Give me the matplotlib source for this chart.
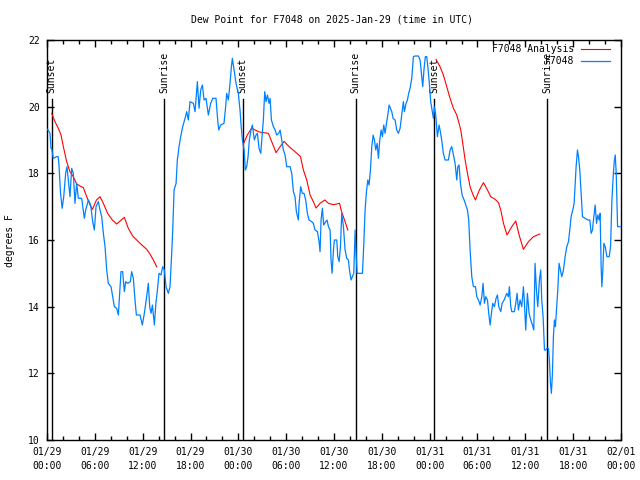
import numpy as np
import matplotlib
matplotlib.use('Agg')
import matplotlib.pyplot as plt

# ---- data (hours since 2025-01-29 00:00 UTC) ----
obs_hours = [0.08, 0.38, 0.5, 0.59, 0.79, 1.2, 1.4, 1.5, 1.7, 1.9, 2.1, 2.34, 2.51, 2.68, 2.88, 3.1, 3.3, 3.51,
             3.72, 3.93, 4.35, 4.68, 4.85, 5.19, 5.48, 5.73, 5.94, 6.15, 6.44, 6.65, 6.86, 7.07, 7.28, 7.49, 7.69,
             8.03, 8.24, 8.45, 8.74, 8.95, 9.12, 9.28, 9.49, 9.7, 9.87, 10.12, 10.45, 10.62, 10.83, 11.04, 11.21,
             11.67, 11.96, 12.21, 12.5, 12.71, 12.88, 13.05, 13.22, 13.47, 13.64, 13.85, 14.05, 14.3, 14.51, 14.72,
             14.93, 15.22, 15.43, 15.64, 15.77, 15.94, 16.19, 16.35, 16.56, 16.77, 17.02, 17.32, 17.52, 17.73, 17.94,
             18.36, 18.57, 18.86, 19.07, 19.28, 19.49, 19.7, 19.95, 20.24, 20.53, 20.79, 21.2, 21.41, 21.54, 21.79,
             22.2, 22.41, 22.54, 22.75, 22.96, 23.13, 23.25, 23.46, 23.71, 24.0, 24.21, 24.34, 24.51, 24.72, 24.88,
             25.05, 25.22, 25.38, 25.59, 25.76, 26.01, 26.22, 26.39, 26.6, 26.81, 26.97, 27.14, 27.31, 27.48, 27.65,
             27.85, 27.98, 28.15, 28.4, 28.61, 28.82, 29.07, 29.24, 29.44, 29.65, 29.86, 30.07, 30.49, 30.7, 30.91,
             31.11, 31.28, 31.53, 31.62, 31.82, 32.03, 32.24, 32.45, 32.66, 32.87, 33.2, 33.41, 33.62, 33.92, 34.13,
             34.25, 34.38, 34.54, 34.71, 34.96, 35.13, 35.3, 35.51, 35.63, 35.76, 35.93, 36.05, 36.35, 36.47, 36.64,
             36.81, 36.97, 37.18, 37.39, 37.6, 37.81, 37.94, 38.14, 38.31, 38.48, 38.65, 38.77, 38.9, 39.57, 39.74,
             39.9, 40.07, 40.24, 40.4, 40.57, 40.74, 40.91, 41.07, 41.24, 41.41, 41.57, 41.74, 41.91, 42.08, 42.24,
             42.41, 42.58, 42.75, 42.91, 43.08, 43.25, 43.41, 43.66, 43.87, 44.08, 44.29, 44.5, 44.7, 44.83, 45.04,
             45.21, 45.37, 45.54, 45.75, 45.96, 46.17, 46.59, 46.8, 47.0, 47.13, 47.3, 47.46, 47.63, 47.75, 47.96,
             48.13, 48.34, 48.47, 48.59, 48.76, 48.97, 49.18, 49.3, 49.51, 49.72, 49.93, 50.35, 50.56, 50.77, 50.98,
             51.19, 51.4, 51.53, 51.69, 51.86, 52.07, 52.32, 52.53, 52.74, 52.9, 53.07, 53.28, 53.49, 53.74, 53.91,
             54.12, 54.33, 54.54, 54.7, 54.87, 55.04, 55.25, 55.41, 55.58, 55.75, 55.91, 56.12, 56.33, 56.5, 56.67,
             56.92, 57.09, 57.34, 57.67, 57.88, 58.0, 58.17, 58.3, 58.63, 58.8, 58.97, 59.13, 59.34, 59.55, 59.76,
             59.89, 60.05, 60.26, 60.47, 60.68, 60.89, 61.06, 61.22, 61.39, 61.56, 61.77, 61.93, 62.06, 62.23, 62.4,
             62.56, 62.69, 62.9, 63.02, 63.15, 63.27, 63.4, 63.52, 63.65, 63.77, 63.94, 64.07, 64.23, 64.4, 64.57,
             64.78, 64.99, 65.2, 65.41, 65.62, 65.74, 65.95, 66.12, 66.25, 66.37, 66.54, 66.67, 66.83, 67.0, 67.17,
             67.5, 67.84, 68.09, 68.26, 68.42, 68.59, 68.76, 68.93, 69.09, 69.26, 69.38, 69.51, 69.6, 69.72, 69.85,
             70.02, 70.23, 70.52, 70.69, 70.86, 71.02, 71.15, 71.28, 71.4, 71.57, 71.9]
obs_dewpt = [19.32, 19.2, 18.75, 18.75, 18.45, 18.5, 18.5, 18.25, 17.4, 16.95, 17.3, 18.0, 18.2, 17.8, 17.3, 18.15,
             18.0, 17.1, 17.7, 17.25, 17.25, 16.65, 16.9, 17.2, 17.05, 16.55, 16.3, 17.0, 17.15, 16.9, 16.7, 16.2,
             15.8, 15.1, 14.7, 14.6, 14.3, 14.0, 13.95, 13.75, 14.4, 15.05, 15.05, 14.45, 14.75, 14.7, 14.75, 15.05,
             14.85, 14.2, 13.75, 13.75, 13.45, 13.8, 14.3, 14.7, 14.0, 13.8, 14.05, 13.45, 14.05, 14.5, 15.0, 14.95,
             15.2, 15.1, 14.6, 14.4, 14.6, 15.6, 16.3, 17.5, 17.7, 18.4, 18.8, 19.1, 19.4, 19.65, 19.85, 19.6, 20.15,
             20.1, 19.85, 20.75, 19.95, 20.5, 20.65, 20.2, 20.25, 19.75, 20.1, 20.25, 20.25, 19.6, 19.3, 19.45, 19.5,
             20.0, 20.4, 20.2, 20.7, 21.2, 21.45, 21.1, 20.7, 20.4, 19.9, 19.45, 19.0, 18.7, 18.1, 18.2, 18.5, 19.0,
             19.3, 19.45, 19.0, 19.15, 19.2, 18.75, 18.6, 19.1, 19.6, 20.45, 20.15, 20.35, 20.1, 20.25, 19.6, 19.4,
             19.3, 19.15, 19.2, 19.3, 19.0, 18.7, 18.55, 18.2, 18.2, 18.0, 17.45, 17.3, 16.85, 16.6, 17.1, 17.6,
             17.4, 17.4, 17.2, 16.8, 16.6, 16.55, 16.5, 16.3, 16.25, 15.95, 15.65, 16.6, 16.95, 16.45, 16.55, 16.6,
             16.4, 16.3, 15.4, 15.0, 15.7, 16.0, 16.0, 15.5, 15.35, 15.8, 16.8, 16.4, 15.7, 15.45, 15.4, 15.1, 14.8,
             14.9, 15.0, 16.3, 15.6, 15.0, 15.0, 15.9, 16.9, 17.45, 17.8, 17.65, 18.1, 18.8, 19.15, 19.0, 18.7, 18.9,
             18.45, 19.0, 19.3, 19.1, 19.45, 19.2, 19.5, 19.75, 20.05, 19.95, 19.85, 19.65, 19.6, 19.3, 19.2, 19.35,
             19.75, 20.15, 19.85, 20.1, 20.2, 20.4, 20.55, 20.85, 21.5, 21.52, 21.52, 21.4, 20.9, 20.6, 21.15, 21.5,
             21.5, 21.25, 20.7, 20.15, 19.85, 19.65, 20.0, 19.75, 19.1, 19.45, 19.3, 19.0, 18.6, 18.4, 18.4, 18.7,
             18.8, 18.55, 18.3, 17.8, 18.2, 18.25, 17.7, 17.35, 17.2, 17.05, 16.9, 16.6, 15.7, 14.9, 14.6, 14.6,
             14.3, 14.2, 14.05, 14.3, 14.7, 14.1, 14.3, 14.2, 13.8, 13.45, 13.8, 14.1, 14.0, 14.25, 14.35, 14.0,
             13.85, 14.1, 14.2, 14.4, 14.3, 14.6, 14.0, 13.85, 13.85, 14.1, 14.4, 13.9, 14.2, 14.0, 14.6, 14.1, 13.3,
             14.4, 13.8, 13.6, 13.45, 13.3, 15.3, 14.5, 14.0, 14.8, 15.1, 14.2, 13.7, 12.7, 12.7, 12.75, 12.75, 12.4,
             11.7, 11.4, 12.0, 13.1, 13.6, 13.4, 14.0, 14.5, 15.3, 15.1, 14.9, 15.1, 15.5, 15.8, 15.95, 16.4, 16.7,
             16.9, 17.1, 17.7, 18.2, 18.7, 18.5, 18.1, 17.4, 16.7, 16.65, 16.6, 16.6, 16.2, 16.3, 16.7, 17.05, 16.5,
             16.75, 16.6, 16.8, 15.2, 14.6, 15.1, 15.9, 15.8, 15.5, 15.5, 15.8, 17.2, 17.9, 18.35, 18.55, 18.0, 16.4,
             16.4]

ana1_hours = [0.59, 1.0, 1.42, 1.76, 2.05, 2.47, 2.88, 3.3, 3.72, 4.14, 4.56, 4.98, 5.4, 5.7, 6.2, 6.65, 7.07,
              7.6, 8.2, 8.74, 9.7, 10.2, 10.75, 11.67, 12.5, 12.92, 13.34, 13.76]
ana1_dewpt = [19.8, 19.55, 19.35, 19.15, 18.8, 18.35, 18.05, 17.9, 17.68, 17.62, 17.57, 17.3, 17.05, 16.92, 17.2,
              17.3, 17.1, 16.8, 16.6, 16.48, 16.68, 16.35, 16.12, 15.9, 15.72, 15.58, 15.4, 15.2]
ana2_hours = [24.63, 25.13, 25.68, 26.1, 26.64, 27.14, 27.77, 28.27, 28.73, 29.24, 29.74, 30.28, 31.11, 31.8,
              32.16, 32.58, 33.0, 33.41, 33.75, 34.25, 34.85, 35.3, 35.9, 36.35, 36.7, 36.89, 37.1, 37.39, 37.73]
ana2_dewpt = [18.88, 19.15, 19.36, 19.3, 19.24, 19.22, 19.2, 18.9, 18.62, 18.8, 18.96, 18.82, 18.65, 18.5, 18.1,
              17.8, 17.35, 17.15, 16.96, 17.1, 17.2, 17.1, 17.06, 17.08, 17.1, 16.9, 16.75, 16.55, 16.3]
ana3_hours = [48.8, 49.3, 49.72, 50.14, 50.56, 50.98, 51.4, 51.69, 51.9, 52.15, 52.45, 52.74, 53.07, 53.4, 53.74,
              54.24, 54.75, 55.25, 55.66, 56.21, 56.63, 56.92, 57.26, 57.7, 58.3, 58.8, 59.22, 59.76, 60.39, 61.02,
              61.81]
ana3_dewpt = [21.42, 21.2, 20.95, 20.6, 20.25, 19.95, 19.75, 19.5, 19.3, 18.9, 18.4, 18.0, 17.6, 17.38, 17.2, 17.5,
              17.72, 17.5, 17.3, 17.22, 17.12, 16.9, 16.5, 16.15, 16.4, 16.57, 16.15, 15.72, 15.95, 16.1, 16.18]

sunset_hours = [0.6, 24.55, 48.6]
sunrise_hours = [14.72, 38.73, 62.75]

x_tick_hours = [0, 6, 12, 18, 24, 30, 36, 42, 48, 54, 60, 66, 72]
x_tick_labels = ['01/29\n00:00', '01/29\n06:00', '01/29\n12:00', '01/29\n18:00',
                 '01/30\n00:00', '01/30\n06:00', '01/30\n12:00', '01/30\n18:00',
                 '01/31\n00:00', '01/31\n06:00', '01/31\n12:00', '01/31\n18:00', '02/01\n00:00']
y_ticks = [10, 12, 14, 16, 18, 20, 22]

title = 'Dew Point for F7048 on 2025-Jan-29 (time in UTC)'

# ---- plot ----
FONT = 'DejaVu Sans Mono'
FS = 7
plt.rcParams['font.family'] = [FONT]

fig = plt.figure(figsize=(6.4, 4.8), dpi=100)
ax = fig.add_axes([47/640, 1-440/480, 574/640, 400/480])

ana_hours = ana1_hours + [np.nan] + ana2_hours + [np.nan] + ana3_hours
ana_dewpt = ana1_dewpt + [np.nan] + ana2_dewpt + [np.nan] + ana3_dewpt

for h in sunset_hours + sunrise_hours:
    ax.plot([h, h], [10, 20.22], color='black', lw=1.0, zorder=2)
for h in sunset_hours:
    ax.text(h, 20.42, 'Sunset', rotation=90, ha='center', va='bottom', fontsize=FS, zorder=3)
for h in sunrise_hours:
    ax.text(h, 20.42, 'Sunrise', rotation=90, ha='center', va='bottom', fontsize=FS, zorder=3)

ax.plot(ana_hours, ana_dewpt, color='#ff0000', lw=0.8, label='F7048 Analysis', zorder=4)
ax.plot(obs_hours, obs_dewpt, color='#0080ff', lw=0.9, label='F7048', zorder=4)

ax.set_xlim(0, 72)
ax.set_ylim(10, 22)
ax.set_xticks(x_tick_hours)
ax.set_xticklabels(x_tick_labels, fontsize=FS, linespacing=1.5)
ax.set_xticks(np.arange(0, 73, 2), minor=True)
ax.set_yticks(y_ticks)
ax.set_yticklabels([str(v) for v in y_ticks], fontsize=FS)
ax.tick_params(axis='both', which='major', direction='in', length=5, width=1,
               top=True, right=True, pad=5)
ax.tick_params(axis='x', which='minor', direction='in', length=3, width=1, top=True)
ax.tick_params(axis='y', which='minor', left=False, right=False)
for s in ax.spines.values():
    s.set_linewidth(1.0)

leg = ax.legend(loc='upper right', bbox_to_anchor=((610-47)/574, (440-44)/400),
                frameon=False, markerfirst=False, fontsize=FS, handlelength=3.0,
                handletextpad=0.7, labelspacing=0.25, borderaxespad=0, borderpad=0)
leg.set_zorder(5)

fig.text(332/640, 1-20/480, title, ha='center', va='center', fontsize=FS)
fig.text(10/640, 1-241/480, 'degrees F', rotation=90, ha='center', va='center', fontsize=FS)

fig.savefig('out.png', dpi=100)
